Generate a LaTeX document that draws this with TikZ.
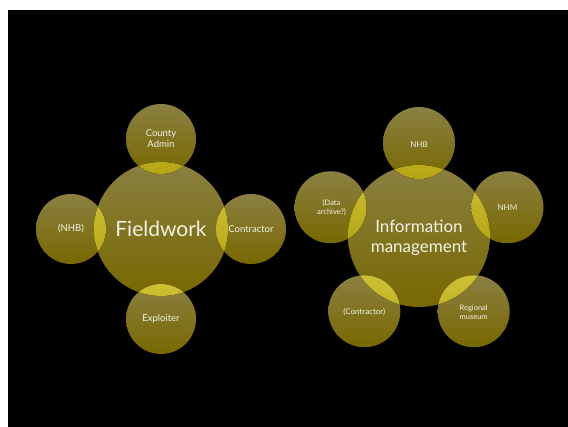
\documentclass[tikz,border=0pt]{standalone}
\usepackage{fontspec}
\setmainfont{Lato}
\usetikzlibrary{calc}
\definecolor{oliveTop}{RGB}{138,128,66}
\definecolor{oliveBot}{RGB}{120,104,0}
\definecolor{lapTop}{RGB}{206,192,52}
\definecolor{lapBot}{RGB}{182,166,22}
\definecolor{txtcol}{RGB}{242,242,228}

\begin{document}
\begin{tikzpicture}[
        x=1pt,
        y=1pt,
        bubble/.style={circle, inner sep=0pt, draw=none, minimum size=#1,
            top color=oliveTop, bottom color=oliveBot},
        bubble/.default=70pt,
        lap/.style={top color=lapTop, bottom color=lapBot},
        lbl/.style 2 args={text=txtcol, align=center, inner sep=0pt,
            font=\fontsize{#1}{#2}\selectfont}
    ]

    % slide
    \useasboundingbox (0,0) rectangle (568,427);
    \fill[white] (0,0) rectangle (568,427);
    \fill[black] (8,0) rectangle (568,417);

    % fieldwork group
    \node[bubble=134pt] (fw) at (161,198) {};
    \node[bubble] (cty) at (161,288) {};
    \node[bubble] (nhbl) at (71,198) {};
    \node[bubble] (ctr) at (251,198) {};
    \node[bubble] (expl) at (161,108) {};

    % information management group
    \node[bubble=142pt] (im) at (419,191) {};
    \foreach \ang/\nm in {90/nhb, 18/nhm, -54/mus, -126/con, 162/arc}
        \node[bubble=72pt] (\nm) at ($(im)+(\ang:93pt)$) {};

    % overlaps
    \begin{scope}
        \clip (fw) circle (67pt);
        \foreach \nm in {cty, nhbl, ctr, expl}
            \fill[lap] (\nm) circle (35pt);
    \end{scope}
    \begin{scope}
        \clip (im) circle (71pt);
        \foreach \nm in {nhb, nhm, mus, con, arc}
            \fill[lap] (\nm) circle (36pt);
    \end{scope}

    % labels
    \node[lbl={21}{24}] (fwtxt) at (fw) {Fieldwork};
    \node[lbl={9.5}{11}] (ctytxt) at (cty) {County\\Admin};
    \node[lbl={9.5}{11}] (nhbltxt) at (nhbl) {(NHB)};
    \node[lbl={9.5}{11}] (ctrtxt) at (ctr) {Contractor};
    \node[lbl={9.5}{11}] (expltxt) at (expl) {Exploiter};

    \node[lbl={17}{20}] (imtxt) at ([yshift=-2pt]im) {Information\\management};
    \node[lbl={8}{9.5}] (nhbtxt) at ([yshift=-2pt]nhb) {NHB};
    \node[lbl={8}{9.5}] (nhmtxt) at (nhm) {NHM};
    \node[lbl={7.5}{9}] (mustxt) at ([yshift=-1pt]mus) {Regional\\museum};
    \node[lbl={8}{9.5}] (context) at ([yshift=-1pt]con) {(Contractor)};
    \node[lbl={7.5}{9}] (arctxt) at ([xshift=1pt]arc) {(Data\\archive?)};

\end{tikzpicture}
\end{document}
